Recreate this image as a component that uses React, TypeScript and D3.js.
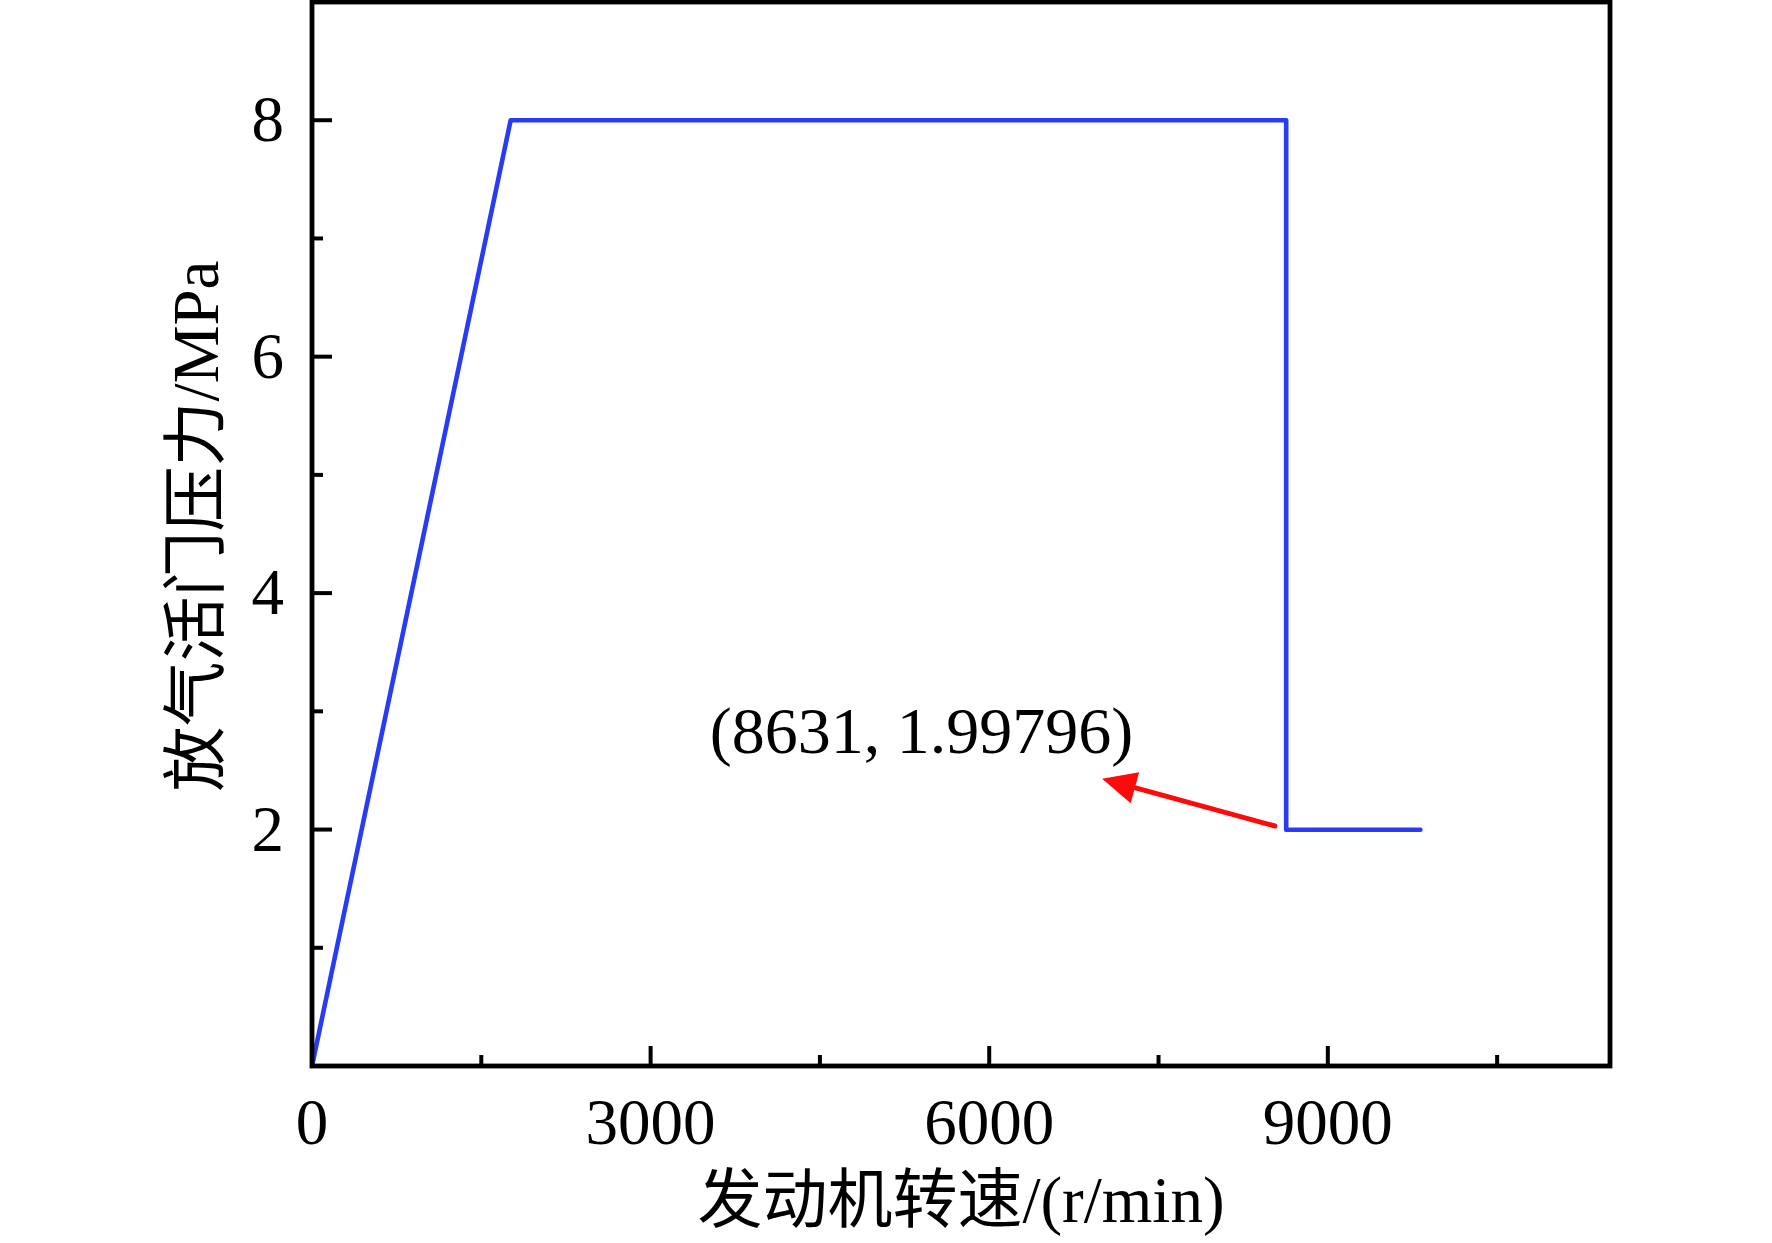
import * as d3 from "d3";

// engine speed (r/min) vs. relief valve pressure (MPa)
const speed = [0, 1760, 8631, 8631, 9820];
const pressure = [0, 8, 8, 1.99796, 1.99796];

const xMajor = [0, 3000, 6000, 9000];
const xMinor = [1500, 4500, 7500, 10500];
const yMajor = [2, 4, 6, 8];
const yMinor = [1, 3, 5, 7];

const noteText = "(8631, 1.99796)";
const notePos = [5400, 2.65];
const arrowFrom = [8530, 2.03];
const arrowTo = [7000, 2.43];

const xTitle = "发动机转速/(r/min)";
const yTitle = "放气活门压力/MPa";

const W = 1772;
const H = 1243;
const m = { left: 312, right: 162, top: 2, bottom: 177 };
const font = "'Liberation Serif', 'Times New Roman', 'Noto Sans CJK SC', serif";

const App = () => {
  const x = d3.scaleLinear().domain([0, 11500]).range([m.left, W - m.right]);
  const y = d3.scaleLinear().domain([0, 9]).range([H - m.bottom, m.top]);

  const line = d3
    .line<number>()
    .x((d, i) => x(speed[i]))
    .y((d, i) => y(pressure[i]));

  const x0 = x(0);
  const y0 = y(0);

  // arrow head geometry
  const ax1 = x(arrowFrom[0]);
  const ay1 = y(arrowFrom[1]);
  const ax2 = x(arrowTo[0]);
  const ay2 = y(arrowTo[1]);
  const ang = Math.atan2(ay2 - ay1, ax2 - ax1);
  const headLen = 34;
  const headW = 16;
  const bx = ax2 - headLen * Math.cos(ang);
  const by = ay2 - headLen * Math.sin(ang);
  const head = [
    [ax2, ay2],
    [bx + headW * Math.sin(ang), by - headW * Math.cos(ang)],
    [bx - headW * Math.sin(ang), by + headW * Math.cos(ang)],
  ];

  return (
    <svg
      width={W}
      height={H}
      style={{ position: "absolute", left: 0, top: 0, background: "#fff" }}
      fontFamily={font}
    >
      <path
        d={line(speed) || ""}
        fill="none"
        stroke="#283cf5"
        strokeWidth={4.6}
        strokeLinejoin="round"
        strokeLinecap="round"
      />

      {/* annotation */}
      <line
        x1={ax1}
        y1={ay1}
        x2={bx + 4 * Math.cos(ang)}
        y2={by + 4 * Math.sin(ang)}
        stroke="#ff0a0a"
        strokeWidth={5}
        strokeLinecap="round"
      />
      <polygon points={head.map((p) => p.join(",")).join(" ")} fill="#ff0a0a" />
      <text x={x(notePos[0])} y={y(notePos[1])} textAnchor="middle" fontSize={66} fill="#000">
        {noteText}
      </text>

      {/* ticks */}
      {xMajor.map((t) => (
        <line key={"xM" + t} x1={x(t)} x2={x(t)} y1={y0} y2={y0 - 20} stroke="#000" strokeWidth={4} />
      ))}
      {xMinor.map((t) => (
        <line key={"xm" + t} x1={x(t)} x2={x(t)} y1={y0} y2={y0 - 11} stroke="#000" strokeWidth={4} />
      ))}
      {yMajor.map((t) => (
        <line key={"yM" + t} x1={x0} x2={x0 + 20} y1={y(t)} y2={y(t)} stroke="#000" strokeWidth={4} />
      ))}
      {yMinor.map((t) => (
        <line key={"ym" + t} x1={x0} x2={x0 + 11} y1={y(t)} y2={y(t)} stroke="#000" strokeWidth={4} />
      ))}

      {/* frame */}
      <rect
        x={x0}
        y={y(9)}
        width={x(11500) - x0}
        height={y0 - y(9)}
        fill="none"
        stroke="#000"
        strokeWidth={4.8}
      />

      {/* tick labels */}
      {xMajor.map((t) => (
        <text key={"xl" + t} x={x(t)} y={y0 + 78} textAnchor="middle" fontSize={65} fill="#000">
          {t}
        </text>
      ))}
      {yMajor.map((t) => (
        <text key={"yl" + t} x={x0 - 28} y={y(t) + 21} textAnchor="end" fontSize={65} fill="#000">
          {t}
        </text>
      ))}

      {/* axis titles */}
      <text x={(x0 + x(11500)) / 2} y={1222} textAnchor="middle" fontSize={65} fill="#000">
        {xTitle}
      </text>
      <text
        transform={`translate(218, ${(y0 + y(9)) / 2 - 8}) rotate(-90)`}
        textAnchor="middle"
        fontSize={65}
        fill="#000"
      >
        {yTitle}
      </text>
    </svg>
  );
};

export default App;
